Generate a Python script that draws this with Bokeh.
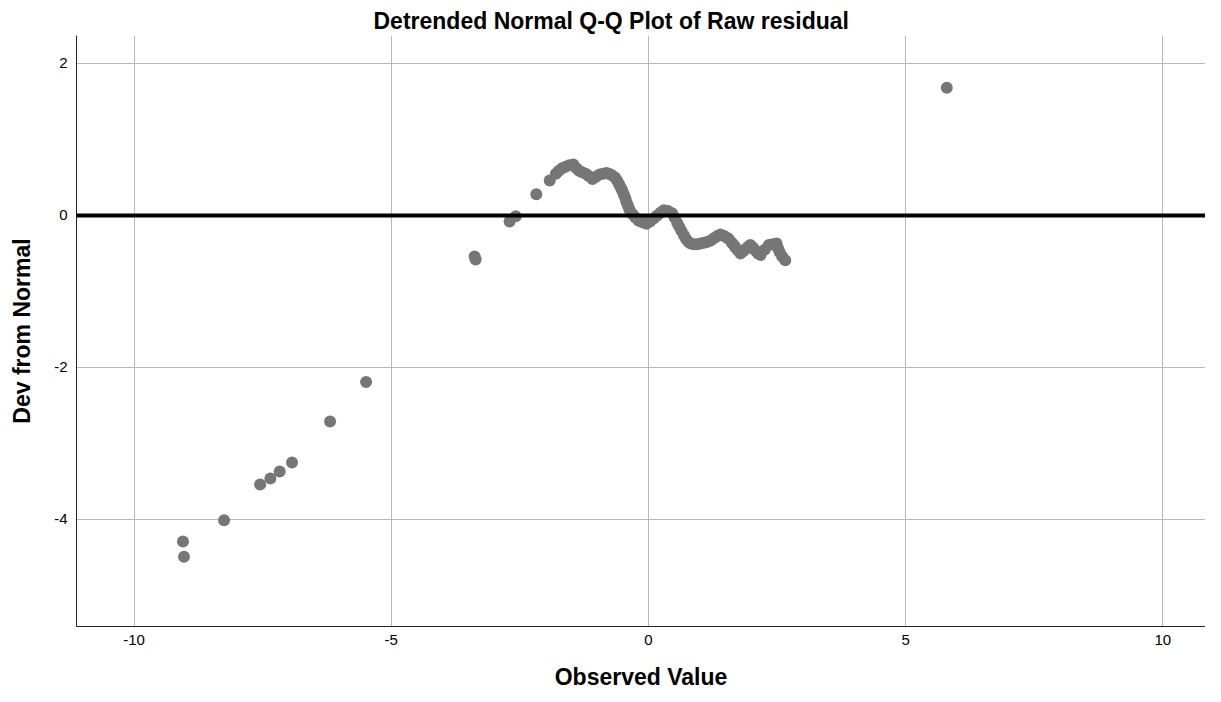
from bokeh.plotting import figure
from bokeh.models import Range1d, FixedTicker, Span, ColumnDataSource
from bokeh.embed import file_html
from bokeh.resources import INLINE

# Observed values (x) and deviations from normal (y)
observed = [
    -9.05, -9.03, -8.25, -7.55, -7.35, -7.17, -6.93, -6.19, -5.49,
    -3.38, -3.36, -2.70, -2.58, -2.18, -1.92,
    -1.80, -1.74, -1.68, -1.61, -1.54, -1.46, -1.40, -1.35, -1.29, -1.22,
    -1.16, -1.09, -1.02, -0.95, -0.88, -0.82, -0.77, -0.71, -0.65, -0.61,
    -0.57, -0.54, -0.51, -0.48, -0.45, -0.43, -0.40, -0.37, -0.34, -0.30,
    -0.25, -0.19, -0.12, -0.04, 0.03, 0.10, 0.17, 0.24, 0.30, 0.38,
    0.46, 0.51, 0.56, 0.60, 0.64, 0.69, 0.73, 0.78, 0.82, 0.88,
    0.95, 1.01, 1.08, 1.14, 1.21, 1.27, 1.34, 1.40, 1.47, 1.52,
    1.56, 1.62, 1.66, 1.69, 1.74, 1.79, 1.84, 1.89, 1.94, 1.98,
    2.03, 2.08, 2.13, 2.18, 2.26, 2.34, 2.41, 2.49, 2.52, 2.55,
    2.60, 2.66,
    5.80,
]
deviation = [
    -4.29, -4.49, -4.01, -3.54, -3.46, -3.37, -3.25, -2.71, -2.19,
    -0.54, -0.58, -0.08, -0.01, 0.28, 0.46,
    0.55, 0.59, 0.62, 0.64, 0.66, 0.67, 0.62, 0.59, 0.57, 0.55,
    0.52, 0.48, 0.51, 0.54, 0.55, 0.56, 0.55, 0.53, 0.50, 0.46,
    0.41, 0.37, 0.33, 0.28, 0.23, 0.18, 0.13, 0.08, 0.04, 0.01,
    -0.03, -0.07, -0.09, -0.11, -0.08, -0.04, 0.00, 0.04, 0.07, 0.06,
    0.03, -0.03, -0.10, -0.15, -0.20, -0.26, -0.31, -0.35, -0.37, -0.38,
    -0.38, -0.37, -0.36, -0.35, -0.33, -0.30, -0.27, -0.25, -0.27, -0.29,
    -0.31, -0.36, -0.39, -0.42, -0.46, -0.50, -0.47, -0.44, -0.41, -0.39,
    -0.42, -0.46, -0.50, -0.52, -0.45, -0.39, -0.38, -0.37, -0.43, -0.48,
    -0.54, -0.59,
    1.68,
]
x_ticks = [-10, -5, 0, 5, 10]
y_ticks = [-4, -2, 0, 2]
x_tick_labels = ["-10", "-5", "0", "5", "10"]
y_tick_labels = ["-4", "-2", "0", "2"]

FONT = "Liberation Sans"

p = figure(
    width=1205, height=694,
    output_backend="svg", toolbar_location=None,
    x_range=Range1d(-11.12, 10.83), y_range=Range1d(-5.408, 2.368),
    title="Detrended Normal Q-Q Plot of Raw residual",
    min_border_left=76, min_border_right=0, min_border_top=35, min_border_bottom=68,
)
p.outline_line_color = None
p.background_fill_color = "white"

p.title.align = "left"
p.title.offset = 297
p.title.text_font = FONT
p.title.text_font_size = "23px"
p.title.text_font_style = "bold"
p.title.text_color = "black"
p.title.standoff = 3

for ax in (p.xaxis[0], p.yaxis[0]):
    ax.axis_line_color = "#222222"
    ax.axis_line_width = 1
    ax.major_tick_line_color = None
    ax.minor_tick_line_color = None
    ax.major_tick_out = 0
    ax.major_tick_in = 0
    ax.minor_tick_out = 0
    ax.major_label_text_font = FONT
    ax.major_label_text_font_size = "15px"
    ax.major_label_text_color = "black"
    ax.axis_label_text_font = FONT
    ax.axis_label_text_font_size = "23px"
    ax.axis_label_text_font_style = "bold"
    ax.axis_label_text_color = "black"

p.xaxis.ticker = FixedTicker(ticks=x_ticks)
p.yaxis.ticker = FixedTicker(ticks=y_ticks)
p.xaxis.major_label_overrides = dict(zip(x_ticks, x_tick_labels))
p.yaxis.major_label_overrides = dict(zip(y_ticks, y_tick_labels))
p.xaxis.axis_label = "Observed Value"
p.yaxis.axis_label = "Dev from Normal"
p.xaxis.major_label_standoff = 8
p.yaxis.major_label_standoff = 9
p.xaxis.axis_label_standoff = 16
p.yaxis.axis_label_standoff = 16

p.xgrid.ticker = FixedTicker(ticks=x_ticks)
p.ygrid.ticker = FixedTicker(ticks=y_ticks)
for g in (p.xgrid[0], p.ygrid[0]):
    g.grid_line_color = "#b8b8b8"
    g.grid_line_width = 1

p.add_layout(Span(location=0, dimension="width", line_color="black", line_width=4))

src = ColumnDataSource(dict(x=observed, y=deviation))
p.scatter("x", "y", source=src, size=12, fill_color="#767676", line_color="#767676", line_width=0)

open("out.html", "w").write(file_html(p, INLINE))
